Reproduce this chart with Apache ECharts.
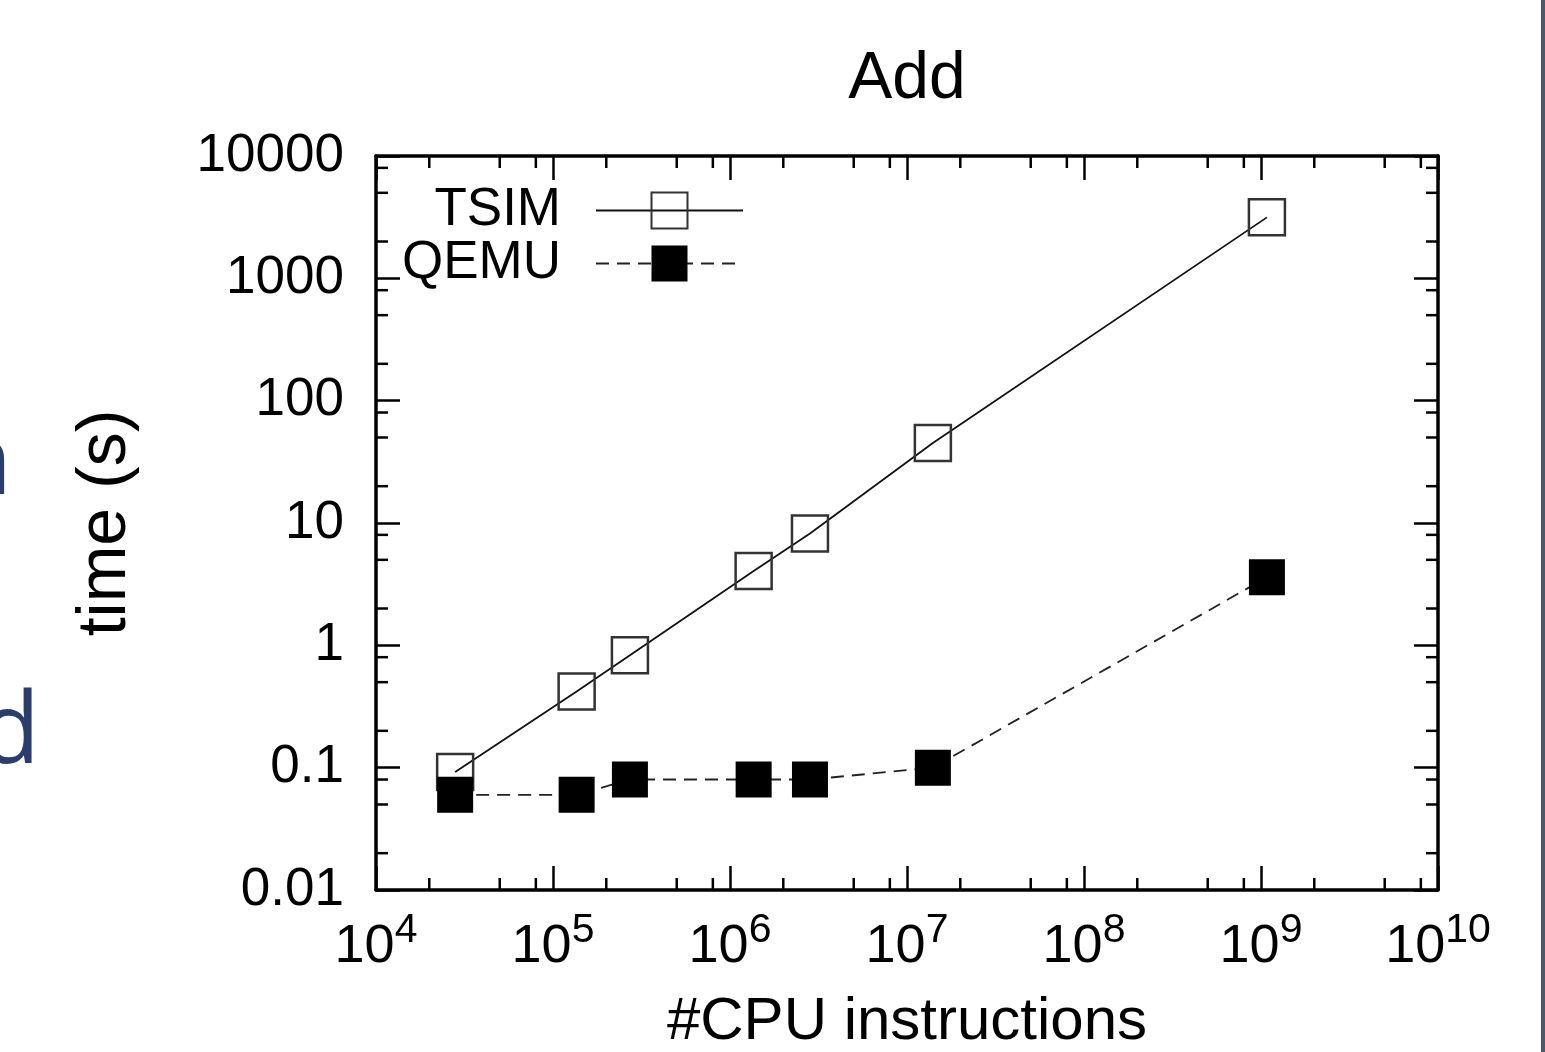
<!DOCTYPE html>
<html><head><meta charset="utf-8">
<script src="https://cdn.jsdelivr.net/npm/echarts@6/dist/echarts.min.js"></script>
<style>html,body{margin:0;padding:0;background:#fff}#c{width:1545px;height:1052px}</style>
</head><body><div id="c"></div>
<script>
// ---- data ----
const instructions = [2.8e4, 1.36e5, 2.72e5, 1.36e6, 2.83e6, 1.40e7, 1.08e9];
const tsimTime = [0.092, 0.42, 0.83, 4.05, 8.2, 45, 3150];
const qemuTime = [0.06, 0.06, 0.08, 0.08, 0.08, 0.1, 3.6];
const seriesNames = ['TSIM', 'QEMU'];
const xTickExponents = [4, 5, 6, 7, 8, 9, 10];
const yTickLabels = ['0.01', '0.1', '1', '10', '100', '1000', '10000'];
const minorMultipliers = [2, 5, 8];
const chartTitle = 'Add';
const xName = '#CPU instructions';
const yName = 'time (s)';

const FONT = 'Liberation Sans, Arial, Helvetica, sans-serif';
const xMin = Math.pow(10, xTickExponents[0]);
const xMax = Math.pow(10, xTickExponents[xTickExponents.length - 1]);
const yMin = Number(yTickLabels[0]);
const yMax = Number(yTickLabels[yTickLabels.length - 1]);

const minorX = [];
for (let e = xTickExponents[0]; e < xTickExponents[xTickExponents.length - 1]; e++)
  minorMultipliers.forEach(m => minorX.push(m * Math.pow(10, e)));
const minorY = [];
const yE0 = Math.round(Math.log10(yMin)), yE1 = Math.round(Math.log10(yMax));
for (let e = yE0; e < yE1; e++)
  minorMultipliers.forEach(m => minorY.push(m * Math.pow(10, e)));

const chart = echarts.init(document.getElementById('c'), null, {renderer: 'canvas'});

const axisLine = {show: true, lineStyle: {color: '#000', width: 3.5}};
const axisTick = {show: true, inside: true, length: 24, lineStyle: {color: '#000', width: 2.5}};

function xAxisDef(pos, labels) {
  return {
    type: 'log', logBase: 10, min: xMin, max: xMax, splitNumber: 6, position: pos,
    axisLine, axisTick, splitLine: {show: false}, minorTick: {show: false},
    name: labels ? xName : '', nameLocation: 'middle', nameGap: 102,
    nameTextStyle: {fontFamily: FONT, fontSize: 60, color: '#000'},
    axisLabel: labels ? {
      show: true, margin: 20, color: '#000', fontFamily: FONT,
      formatter: v => '{b|10}{s|' + Math.round(Math.log10(v)) + '}',
      rich: {
        b: {fontSize: 54, fontFamily: FONT, color: '#000', verticalAlign: 'bottom', lineHeight: 64},
        s: {fontSize: 41, fontFamily: FONT, color: '#000', verticalAlign: 'top', lineHeight: 64}
      }
    } : {show: false}
  };
}
function yAxisDef(pos, labels) {
  return {
    type: 'log', logBase: 10, min: yMin, max: yMax, splitNumber: 6, position: pos,
    axisLine, axisTick, splitLine: {show: false}, minorTick: {show: false},
    name: labels ? yName : '', nameLocation: 'middle', nameGap: 236, nameRotate: 90,
    nameTextStyle: {fontFamily: FONT, fontSize: 68, color: '#000'},
    axisLabel: labels ? {
      show: true, margin: 32, color: '#000', fontFamily: FONT, fontSize: 53,
      formatter: v => yTickLabels[Math.round(Math.log10(v)) - yE0]
    } : {show: false}
  };
}

const option = {
  animation: false,
  backgroundColor: '#fff',
  title: {
    text: chartTitle, left: 902, top: 42, textAlign: 'center',
    textStyle: {fontFamily: FONT, fontSize: 66, fontWeight: 'normal', color: '#000'}
  },
  grid: {left: 376, top: 156, width: 1062, height: 734, containLabel: false, outerBoundsMode: 'none'},
  legend: {
    data: seriesNames, orient: 'vertical', align: 'right', right: 801, top: 184,
    itemWidth: 147, itemHeight: 45, itemGap: 0, padding: 0, selectedMode: false,
    textStyle: {fontFamily: FONT, fontSize: 53, color: '#000', lineHeight: 45, padding: [0, 30, 0, 0]}
  },
  xAxis: [xAxisDef('bottom', true), xAxisDef('top', false)],
  yAxis: [yAxisDef('left', true), yAxisDef('right', false)],
  graphic: [
    {type: 'rect', shape: {x: 1541, y: 0, width: 4, height: 1052}, style: {fill: '#4b5a74'}, silent: true},
    {type: 'text', x: 12, y: 417, style: {text: 'n', font: '98px "Open Sans", sans-serif', fill: '#2b3d6d', align: 'right'}, silent: true},
    {type: 'text', x: 40, y: 686, style: {text: 'd', font: '98px "Open Sans", sans-serif', fill: '#2b3d6d', align: 'right'}, silent: true}
  ],
  series: [
    {
      type: 'custom', name: 'minorTicks', xAxisIndex: 0, yAxisIndex: 0, clip: false, silent: true, z: 1,
      data: [[xMin, yMin]],
      renderItem: function (params, api) {
        const lo = api.coord([xMin, yMin]);
        const hi = api.coord([xMax, yMax]);
        const L = 12, st = {stroke: '#000', lineWidth: 2.5};
        const kids = [];
        minorX.forEach(v => {
          const px = api.coord([v, yMin])[0];
          kids.push({type: 'line', shape: {x1: px, y1: lo[1], x2: px, y2: lo[1] - L}, style: st});
          kids.push({type: 'line', shape: {x1: px, y1: hi[1], x2: px, y2: hi[1] + L}, style: st});
        });
        minorY.forEach(v => {
          const py = api.coord([xMin, v])[1];
          kids.push({type: 'line', shape: {x1: lo[0], y1: py, x2: lo[0] + L, y2: py}, style: st});
          kids.push({type: 'line', shape: {x1: hi[0], y1: py, x2: hi[0] - L, y2: py}, style: st});
        });
        return {type: 'group', children: kids};
      }
    },
    {
      name: seriesNames[0], type: 'line', xAxisIndex: 0, yAxisIndex: 0, z: 3,
      data: instructions.map((x, i) => [x, tsimTime[i]]),
      symbol: 'rect', symbolSize: 36,
      itemStyle: {color: 'rgba(255,255,255,0)', borderColor: '#333', borderWidth: 2.5},
      lineStyle: {color: '#111', width: 1.8}
    },
    {
      name: seriesNames[1], type: 'line', xAxisIndex: 0, yAxisIndex: 0, z: 4,
      data: instructions.map((x, i) => [x, qemuTime[i]]),
      symbol: 'rect', symbolSize: 36,
      itemStyle: {color: '#000', borderColor: '#000', borderWidth: 0},
      lineStyle: {color: '#222', width: 1.8, type: [13, 8]}
    }
  ]
};
chart.setOption(option);
</script></body></html>
